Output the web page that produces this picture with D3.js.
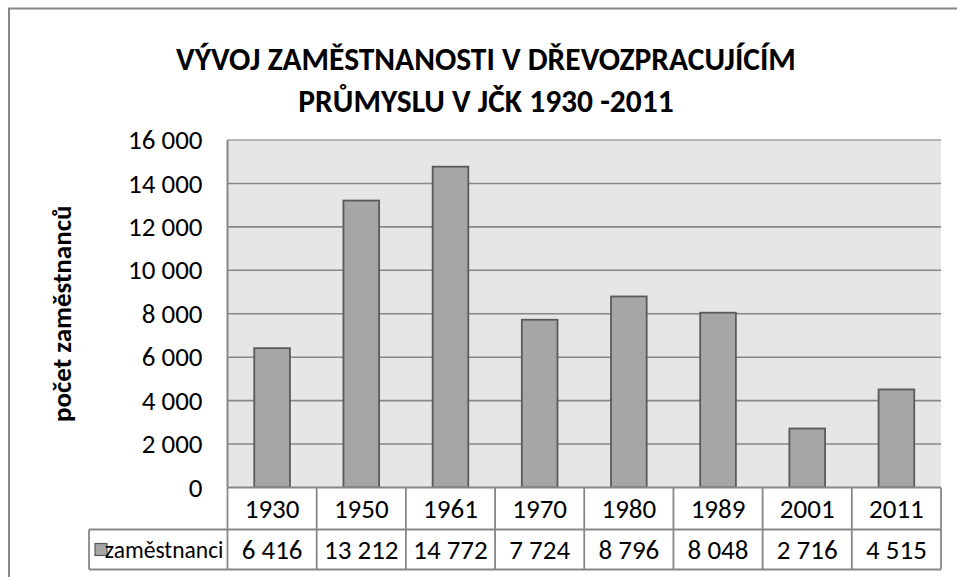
<!DOCTYPE html>
<html>
<head>
<meta charset="utf-8">
<script src="https://cdn.jsdelivr.net/npm/d3@7"></script>
<style>
  body { margin: 0; background: #fff; }
  svg { display: block; font-family: Calibri, Carlito, Lato, sans-serif; }
</style>
</head>
<body>
<svg id="chart" width="957" height="577"></svg>
<script>
"use strict";

var titleLines = ["VÝVOJ ZAMĚSTNANOSTI V DŘEVOZPRACUJÍCÍM", "PRŮMYSLU V JČK 1930 -2011"];
var yTitle = "počet zaměstnanců";
var seriesName = "zaměstnanci";
var years = ["1930", "1950", "1961", "1970", "1980", "1989", "2001", "2011"];
var employees = [6416, 13212, 14772, 7724, 8796, 8048, 2716, 4515];
var yTicks = [0, 2000, 4000, 6000, 8000, 10000, 12000, 14000, 16000];

var svg = d3.select("#chart");

var plot = { left: 227.5, right: 941, top: 140, bottom: 487.5 };
var rowH = [42, 40];
var gridColor = "#878787";
var fontSize = 27;

var cz = d3.formatLocale({ decimal: ",", thousands: " ", grouping: [3], currency: ["", " Kč"] });
var fmt = cz.format(",d");

var x = d3.scaleBand().domain(years).range([plot.left, plot.right]).paddingInner(0.6).paddingOuter(0.3);
var col = d3.scaleBand().domain(years).range([plot.left, plot.right]).padding(0);
var y = d3.scaleLinear().domain([0, 16000]).range([plot.bottom, plot.top]);

// outer chart frame (runs past the right/bottom edge like in the source)
svg.append("rect")
  .attr("x", 9).attr("y", 8.5)
  .attr("width", 980).attr("height", 600)
  .attr("fill", "none")
  .attr("stroke", "#888").attr("stroke-width", 2);

// title
svg.append("g").selectAll("text")
  .data(titleLines)
  .enter().append("text")
    .attr("x", 486)
    .attr("y", function(d, i) { return 70 + i * 42; })
    .attr("text-anchor", "middle")
    .attr("font-weight", "bold")
    .attr("font-size", 31.5)
    .text(function(d) { return d; });

// plot background
svg.append("rect")
  .attr("x", plot.left).attr("y", plot.top)
  .attr("width", plot.right - plot.left).attr("height", plot.bottom - plot.top)
  .attr("fill", "#e6e6e6");

// gridlines
svg.append("g").selectAll("line")
  .data(yTicks.slice(1))
  .enter().append("line")
    .attr("x1", plot.left).attr("x2", plot.right)
    .attr("y1", function(d) { return y(d); })
    .attr("y2", function(d) { return y(d); })
    .attr("stroke", function(d) { return d === 16000 ? "#a0a0a0" : gridColor; })
    .attr("stroke-width", 1.6);

// left axis line
svg.append("line")
  .attr("x1", plot.left).attr("x2", plot.left)
  .attr("y1", plot.top).attr("y2", plot.bottom)
  .attr("stroke", gridColor).attr("stroke-width", 2);

// y axis labels
var yAxis = svg.append("g")
  .attr("transform", "translate(" + plot.left + ",0)")
  .call(d3.axisLeft(y).tickValues(yTicks).tickSize(0).tickPadding(25).tickFormat(fmt))
  .attr("font-family", null)
  .attr("font-size", null);
yAxis.select(".domain").remove();
yAxis.selectAll("text")
  .attr("font-size", fontSize)
  .attr("fill", "#000");

// y title
svg.append("text")
  .attr("transform", "translate(71," + ((plot.top + plot.bottom) / 2) + ") rotate(-90)")
  .attr("text-anchor", "middle")
  .attr("font-weight", "bold")
  .attr("font-size", 27)
  .text(yTitle);

// bars
svg.append("g").selectAll("rect")
  .data(employees)
  .enter().append("rect")
    .attr("x", function(d, i) { return x(years[i]); })
    .attr("y", function(d) { return y(d); })
    .attr("width", x.bandwidth())
    .attr("height", function(d) { return plot.bottom - y(d); })
    .attr("fill", "#a6a6a6")
    .attr("stroke", "#5a5a5a")
    .attr("stroke-width", 1.8);

// data table
var table = svg.append("g");
var legendLeft = 89;
var r1 = plot.bottom, r2 = plot.bottom + rowH[0], r3 = r2 + rowH[1];

table.append("rect")
  .attr("x", plot.left).attr("y", r1)
  .attr("width", plot.right - plot.left).attr("height", r3 - r1)
  .attr("fill", "#fff");
table.append("rect")
  .attr("x", legendLeft).attr("y", r2)
  .attr("width", plot.left - legendLeft).attr("height", rowH[1])
  .attr("fill", "#fff");

var tableLines = [
  [plot.left, r1, plot.right, r1],
  [plot.left, r2, plot.right, r2],
  [legendLeft, r2, plot.left, r2],
  [legendLeft, r3, plot.right, r3],
  [legendLeft, r2, legendLeft, r3]
];
years.forEach(function(yr) {
  tableLines.push([col(yr), r1, col(yr), r3]);
});
tableLines.push([plot.right, r1, plot.right, r3]);

table.selectAll("line")
  .data(tableLines)
  .enter().append("line")
    .attr("x1", function(d) { return d[0]; })
    .attr("y1", function(d) { return d[1]; })
    .attr("x2", function(d) { return d[2]; })
    .attr("y2", function(d) { return d[3]; })
    .attr("stroke", gridColor)
    .attr("stroke-width", 1.8);

table.selectAll("text.year")
  .data(years)
  .enter().append("text")
    .attr("class", "year")
    .attr("x", function(d) { return col(d) + col.bandwidth() / 2; })
    .attr("y", (r1 + r2) / 2)
    .attr("dy", "0.36em")
    .attr("text-anchor", "middle")
    .attr("font-size", fontSize)
    .text(function(d) { return d; });

table.selectAll("text.val")
  .data(employees)
  .enter().append("text")
    .attr("class", "val")
    .attr("x", function(d, i) { return col(years[i]) + col.bandwidth() / 2; })
    .attr("y", (r2 + r3) / 2)
    .attr("dy", "0.36em")
    .attr("text-anchor", "middle")
    .attr("font-size", fontSize)
    .text(function(d) { return fmt(d); });

// legend key + series name
table.append("rect")
  .attr("x", legendLeft + 6).attr("y", (r2 + r3) / 2 - 6)
  .attr("width", 12).attr("height", 12)
  .attr("fill", "#a6a6a6")
  .attr("stroke", "#5a5a5a")
  .attr("stroke-width", 1.2);
table.append("text")
  .attr("x", plot.left - 4)
  .attr("y", (r2 + r3) / 2)
  .attr("dy", "0.36em")
  .attr("text-anchor", "end")
  .attr("font-size", 23.5)
  .text(seriesName);
</script>
</body>
</html>
